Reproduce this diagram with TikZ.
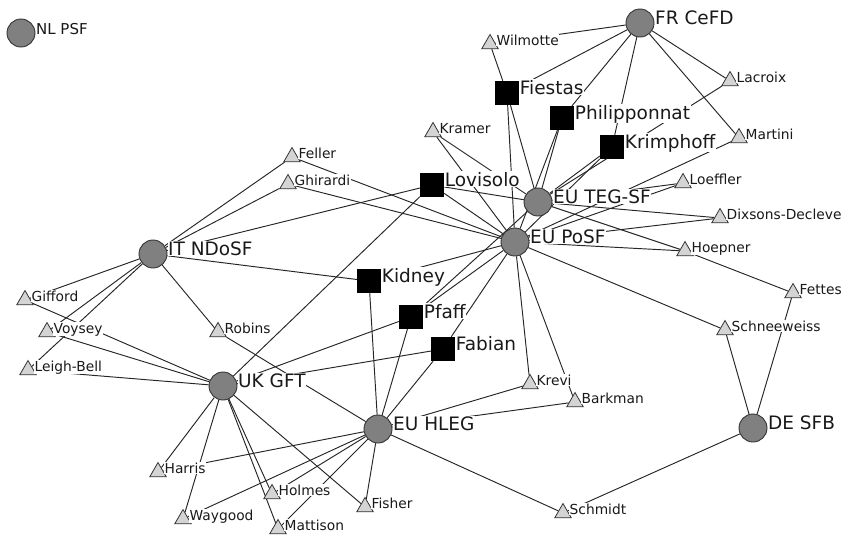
\documentclass[tikz,border=0pt]{standalone}
\usepackage{fontspec}
\setmainfont{DejaVu Sans}
\usetikzlibrary{shapes.geometric,backgrounds}
\tikzset{
  hub/.style={circle, draw=black!80, fill=black!50, line width=0.9pt,
    minimum size=28pt, inner sep=0pt, label distance=3pt},
  expert/.style={rectangle, fill=black, minimum size=24pt, inner sep=0pt,
    label distance=4pt},
  member/.style={regular polygon, regular polygon sides=3, draw=black!80,
    fill=black!17, line width=0.8pt, minimum size=19pt, inner sep=0pt,
    label distance=5.5pt},
  biglbl/.style={fill=white, inner sep=0.5pt, anchor=base west, yshift=-1pt,
    text=black!90, font=\fontsize{18.5}{20}\selectfont},
  smalllbl/.style={fill=white, inner sep=0.5pt, anchor=base west, yshift=-1pt,
    text=black!90, font=\fontsize{13.8}{15}\selectfont},
  tie/.style={draw=black!85, line width=0.95pt}
}
\begin{document}
\begin{tikzpicture}[x=1pt,y=-1pt]
  \useasboundingbox (0,0) rectangle (858,538);
  % groups
  \node[hub, label={[smalllbl, font=\fontsize{15}{16}\selectfont]right:NL PSF}] (nlpsf) at (21,33) {};
  \node[hub, label={[biglbl]right:FR CeFD}] (frcefd) at (640,23) {};
  \node[hub, label={[biglbl]right:EU TEG-SF}] (euteg) at (538,202) {};
  \node[hub, label={[biglbl]right:EU PoSF}] (euposf) at (515,242) {};
  \node[hub, label={[biglbl]right:IT NDoSF}] (itndosf) at (153,254) {};
  \node[hub, label={[biglbl]right:UK GFT}] (ukgft) at (223,386) {};
  \node[hub, label={[biglbl]right:EU HLEG}] (euhleg) at (378,429) {};
  \node[hub, label={[biglbl]right:DE SFB}] (desfb) at (753,428) {};
  % experts in several groups
  \node[expert, label={[biglbl]right:Fiestas}] (fiestas) at (507,93) {};
  \node[expert, label={[biglbl]right:Philipponnat}] (philipp) at (562,118) {};
  \node[expert, label={[biglbl]right:Krimphoff}] (krimph) at (612,147) {};
  \node[expert, label={[biglbl]right:Lovisolo}] (lovisolo) at (432,185) {};
  \node[expert, label={[biglbl]right:Kidney}] (kidney) at (369,281) {};
  \node[expert, label={[biglbl]right:Pfaff}] (pfaff) at (411,317) {};
  \node[expert, label={[biglbl]right:Fabian}] (fabian) at (443,349) {};
  % single members
  \node[member, label={[smalllbl]right:Wilmotte}] (wilmotte) at (490,44) {};
  \node[member, label={[smalllbl]right:Lacroix}] (lacroix) at (730,81) {};
  \node[member, label={[smalllbl]right:Martini}] (martini) at (739,138) {};
  \node[member, label={[smalllbl]right:Kramer}] (kramer) at (433,132) {};
  \node[member, label={[smalllbl]right:Loeffler}] (loeffler) at (683,183) {};
  \node[member, label={[smalllbl]right:Dixsons-Decleve}] (dixsons) at (720,218) {};
  \node[member, label={[smalllbl]right:Hoepner}] (hoepner) at (685,251) {};
  \node[member, label={[smalllbl]right:Feller}] (feller) at (292,157) {};
  \node[member, label={[smalllbl]right:Ghirardi}] (ghirardi) at (288,184) {};
  \node[member, label={[smalllbl]right:Gifford}] (gifford) at (25,300) {};
  \node[member, label={[smalllbl]right:Voysey}] (voysey) at (47,332) {};
  \node[member, label={[smalllbl]right:Leigh-Bell}] (leighbell) at (28,370) {};
  \node[member, label={[smalllbl]right:Robins}] (robins) at (218,332) {};
  \node[member, label={[smalllbl]right:Harris}] (harris) at (158,472) {};
  \node[member, label={[smalllbl]right:Waygood}] (waygood) at (183,519) {};
  \node[member, label={[smalllbl]right:Holmes}] (holmes) at (272,494) {};
  \node[member, label={[smalllbl]right:Mattison}] (mattison) at (278,529) {};
  \node[member, label={[smalllbl]right:Fisher}] (fisher) at (365,507) {};
  \node[member, label={[smalllbl]right:Krevi}] (krevi) at (530,384) {};
  \node[member, label={[smalllbl]right:Barkman}] (barkman) at (575,402) {};
  \node[member, label={[smalllbl]right:Schmidt}] (schmidt) at (563,513) {};
  \node[member, label={[smalllbl]right:Schneeweiss}] (schneew) at (725,330) {};
  \node[member, label={[smalllbl]right:Fettes}] (fettes) at (793,293) {};
  \begin{scope}[on background layer]
    \foreach \a/\b in {frcefd/wilmotte, frcefd/fiestas, frcefd/philipp, frcefd/krimph,
        frcefd/lacroix, frcefd/martini, fiestas/wilmotte, fiestas/euteg, fiestas/euposf,
        philipp/euteg, philipp/euposf, krimph/euteg, krimph/euposf,
        lacroix/euteg, martini/euposf, kramer/euteg, kramer/euposf,
        lovisolo/euteg, lovisolo/euposf, lovisolo/itndosf, lovisolo/ukgft,
        loeffler/euteg, loeffler/euposf, dixsons/euteg, dixsons/euposf,
        hoepner/euteg, hoepner/euposf, hoepner/fettes,
        feller/itndosf, feller/euposf, ghirardi/itndosf, ghirardi/euposf}
      \draw[tie] (\a) -- (\b);
    \foreach \a/\b in {itndosf/kidney, itndosf/robins, itndosf/gifford, itndosf/voysey,
        itndosf/leighbell, ukgft/gifford, ukgft/voysey, ukgft/leighbell, ukgft/pfaff,
        ukgft/fabian, ukgft/harris, ukgft/waygood, ukgft/holmes, ukgft/mattison,
        ukgft/fisher, robins/euhleg, kidney/euhleg, kidney/euposf,
        pfaff/euhleg, pfaff/euposf, pfaff/euteg, fabian/euhleg, fabian/euposf}
      \draw[tie] (\a) -- (\b);
    \foreach \a/\b in {euhleg/harris, euhleg/waygood, euhleg/holmes, euhleg/mattison,
        euhleg/fisher, euhleg/krevi, euhleg/barkman, euhleg/schmidt,
        euposf/krevi, euposf/barkman, euposf/schneew,
        desfb/schneew, desfb/fettes, desfb/schmidt}
      \draw[tie] (\a) -- (\b);
    % \draw[tie] (euteg) -- (euposf);
  \end{scope}
\end{tikzpicture}
\end{document}
